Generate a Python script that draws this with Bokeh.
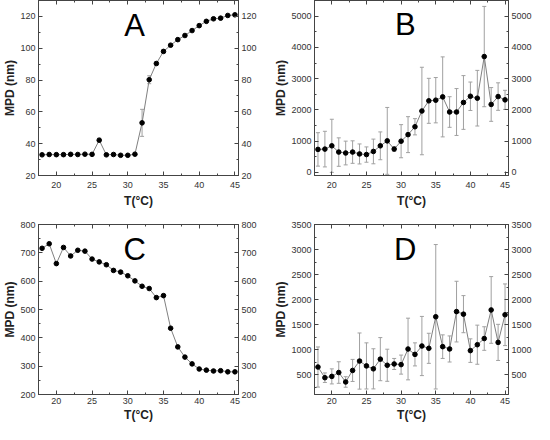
from bokeh.plotting import figure
from bokeh.models import (ColumnDataSource, Range1d, LinearAxis, SingleIntervalTicker,
                          Whisker, TeeHead, Label)
from bokeh.layouts import row, column
from bokeh.embed import file_html
from bokeh.resources import INLINE

# ---------------- data ----------------
temps = list(range(18, 46))

a_mpd = [33.0, 33.2, 33.1, 33.1, 33.3, 33.2, 33.4, 33.3, 42.2, 33.0, 33.2, 32.7, 32.7, 33.4,
         53.1, 80.2, 90.4, 98.0, 101.9, 105.4, 108.0, 111.1, 114.2, 116.9, 118.5, 118.9, 120.6, 121.0]
a_err = [0.5, 0.5, 0.5, 0.5, 0.5, 0.5, 0.5, 0.5, 1.2, 0.5, 0.5, 0.5, 0.5, 0.6,
         8.5, 2.5, 1.0, 0.8, 0.8, 0.7, 0.7, 0.7, 0.7, 0.6, 0.6, 0.6, 0.6, 0.6]

b_mpd = [735, 745, 850, 650, 620, 650, 590, 570, 670, 850, 1008, 746, 998, 1208,
         1460, 1964, 2290, 2310, 2416, 1932, 1932, 2237, 2436, 2374, 3706, 2174, 2426, 2321]
b_err = [535, 570, 850, 455, 380, 360, 320, 245, 395, 445, 1070, 70, 530, 575,
         260, 1400, 720, 725, 1280, 490, 750, 860, 455, 890, 1605, 540, 440, 305]

c_mpd = [716, 732, 662, 719, 689, 709, 706, 678, 668, 658, 638, 632, 619, 601,
         582, 574, 542, 549, 434, 368, 332, 308, 290, 286, 283, 284, 280, 280]

d_mpd = [658, 445, 471, 548, 360, 590, 777, 680, 622, 815, 693, 719, 706, 1017,
         910, 1077, 1031, 1660, 1064, 1018, 1763, 1712, 985, 1103, 1226, 1796, 1149, 1700]
d_err = [400, 95, 150, 215, 105, 220, 560, 460, 400, 430, 320, 110, 190, 615,
         230, 590, 300, 1440, 235, 260, 605, 370, 235, 390, 235, 665, 360, 615]

x_label = "T(°C)"
y_label = "MPD (nm)"

FONT = "Liberation Sans"
AXC = "#444444"
LINEC = "#808080"
ERRC = "#a0a0a0"


def style_axis(ax, show_labels=True, standoff=3):
    ax.axis_line_color = AXC
    ax.major_tick_in = 4
    ax.major_tick_out = 0
    ax.minor_tick_in = 2
    ax.minor_tick_out = 0
    ax.major_tick_line_color = AXC
    ax.minor_tick_line_color = AXC
    ax.major_label_text_font = FONT
    if show_labels:
        ax.major_label_text_font_size = "9px"
        ax.major_label_text_color = "#333333"
        ax.major_label_standoff = standoff
    else:
        ax.major_label_text_font_size = "0px"
        ax.major_label_text_color = None
        ax.major_label_standoff = 0
    ax.axis_label_text_font = FONT
    ax.axis_label_text_font_size = "12px"
    ax.axis_label_text_font_style = "bold"
    ax.axis_label_text_color = "#222222"


def panel(vals, errs, letter, lx, ly, yr, yint, width, height, borders, xstand):
    bl, br, bt, bb = borders
    p = figure(width=width, height=height, x_range=Range1d(17.5, 45.5), y_range=Range1d(*yr),
               output_backend="svg", toolbar_location=None,
               x_axis_location=None, y_axis_location=None,
               min_border_left=bl, min_border_right=br, min_border_top=bt, min_border_bottom=bb)
    p.xgrid.visible = False
    p.ygrid.visible = False
    p.outline_line_color = AXC
    p.background_fill_color = "white"
    p.border_fill_color = "white"

    def xt():
        return SingleIntervalTicker(interval=5, num_minor_ticks=2)

    def yt():
        return SingleIntervalTicker(interval=yint, num_minor_ticks=2)

    below = LinearAxis(ticker=xt(), axis_label=x_label)
    style_axis(below, True, xstand[0])
    below.axis_label_standoff = xstand[1]
    above = LinearAxis(ticker=xt())
    style_axis(above, False)
    left = LinearAxis(ticker=yt(), axis_label=y_label)
    style_axis(left, True, 3)
    left.axis_label_standoff = 0
    right = LinearAxis(ticker=yt())
    style_axis(right, True, 3)
    p.add_layout(below, "below")
    p.add_layout(above, "above")
    p.add_layout(left, "left")
    p.add_layout(right, "right")

    src = ColumnDataSource(dict(x=temps, y=vals))
    if errs is not None:
        esrc = ColumnDataSource(dict(x=temps,
                                     upper=[v + e for v, e in zip(vals, errs)],
                                     lower=[v - e for v, e in zip(vals, errs)]))
        w = Whisker(base="x", upper="upper", lower="lower", source=esrc,
                    line_color=ERRC, line_width=1,
                    upper_head=TeeHead(size=4, line_color=ERRC, line_width=1),
                    lower_head=TeeHead(size=4, line_color=ERRC, line_width=1))
        p.add_layout(w)
    p.line("x", "y", source=src, line_color=LINEC, line_width=1)
    p.scatter("x", "y", source=src, size=4.6, fill_color="black", line_color="black")

    p.add_layout(Label(x=lx, y=ly, text=letter, text_font=FONT, text_font_size="31px",
                       text_color="black", text_align="center", text_baseline="middle"))
    return p


WL, WR = 271, 263
HT, HB = 210, 214

pA = panel(a_mpd, a_err, "A", 30.95, 114.6, (20, 130), 20, WL, HT, (32, 33, 0, 34), (6, 3))
pB = panel(b_mpd, b_err, "B", 30.6, 4726, (-100, 5500), 1000, WR, HT, (37, 22, 0, 34), (6, 3))
pC = panel(c_mpd, None, "C", 30.95, 713, (200, 800), 100, WL, HB, (32, 33, 14, 28), (3, 1))
pD = panel(d_mpd, d_err, "D", 30.6, 3010, (110, 3500), 500, WR, HB, (37, 22, 14, 28), (3, 1))

layout = column(row(pA, pB), row(pC, pD))

open("out.html", "w").write(file_html(layout, INLINE))
